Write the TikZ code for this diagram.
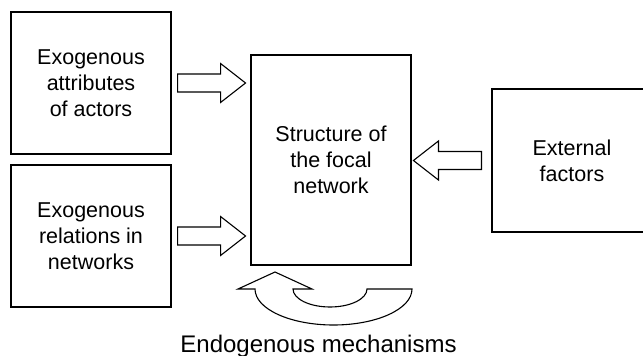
\documentclass[tikz,border=0pt]{standalone}
\usepackage{fontspec}
\setmainfont{Liberation Sans}
\begin{document}
\begin{tikzpicture}[x=1pt,y=-1pt,
  box/.style={draw,line width=1.1pt,rectangle,inner sep=0pt,align=center,
    font=\fontsize{21.5}{26.2}\selectfont},
  fat/.style={draw,line width=1.1pt,fill=white,line join=miter},
  blockarrow/.pic={\draw[fat] (0,-9) -- (43,-9) -- (43,-19.5) -- (68,0)
    -- (43,19.5) -- (43,9) -- (0,9) -- cycle;}]
\useasboundingbox (0,0) rectangle (643,356);

% boxes
\node[box,minimum width=160pt,minimum height=142pt] (attr) at (91,83)
  {Exogenous\\attributes\\of actors};
\node[box,minimum width=160pt,minimum height=142pt] (rel) at (91,236)
  {Exogenous\\relations in\\networks};
\node[box,minimum width=160pt,minimum height=210pt] (focal) at (331,160)
  {Structure of\\the focal\\network};
\node[box,minimum width=160pt,minimum height=143pt] (ext) at (572,160.5)
  {External\\factors};

% block arrows into the focal network
\pic at ([xshift=6pt]attr.east) {blockarrow};
\pic at ([xshift=6pt]rel.east) {blockarrow};
\pic[rotate=180] at ([xshift=-10pt]ext.west) {blockarrow};

% curved feedback arrow under the focal network
\draw[fat] (412,289) .. controls (412,308.9) and (376.9,325) .. (333.5,325)
  .. controls (290.1,325) and (255,308.9) .. (255,289)
  -- (238,289) -- (275,272) -- (312,289) -- (293,289)
  .. controls (293,298.9) and (309.6,307) .. (330,307)
  .. controls (350.4,307) and (367,298.9) .. (367,289) -- cycle;

\node[font=\fontsize{24}{28}\selectfont,anchor=base,inner sep=0pt] (endo)
  at (318.5,352) {Endogenous mechanisms};
\end{tikzpicture}
\end{document}
